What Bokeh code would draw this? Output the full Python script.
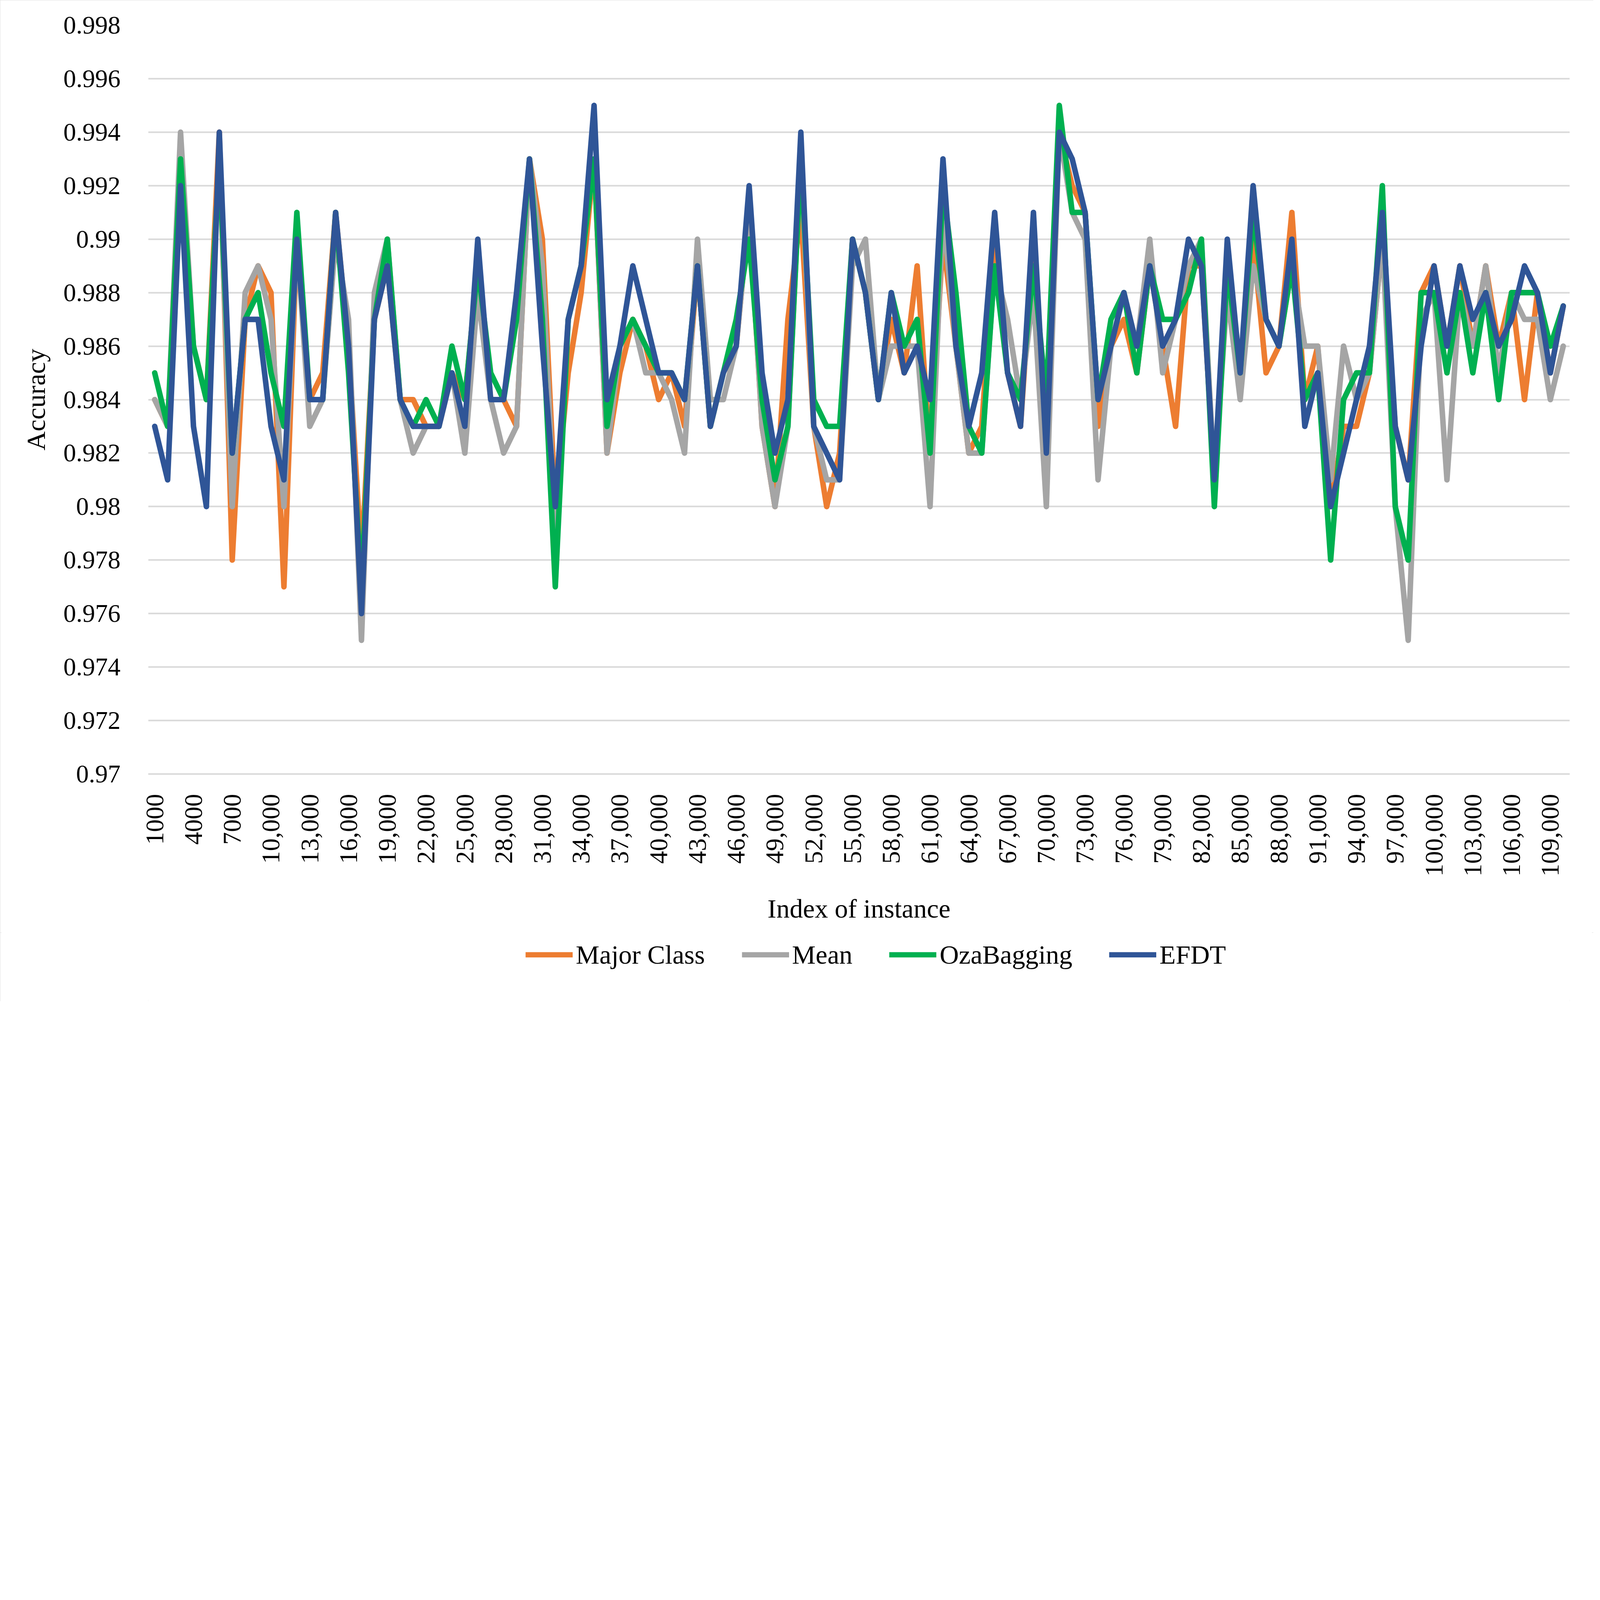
import math
from bokeh.plotting import figure
from bokeh.layouts import column
from bokeh.models import Range1d, FixedTicker, Legend, LegendItem
from bokeh.embed import file_html
from bokeh.resources import INLINE

# Categories: index of instance (1000 ... 110,000)
instances = [1000 * i for i in range(1, 111)]
x_labels = [str(n) if n < 10000 else f"{n:,}" for n in instances]
label_every = 3

series_names = ["Major Class", "Mean", "OzaBagging", "EFDT"]
series_colors = ["#ED7D31", "#A5A5A5", "#00B050", "#2F5597"]

major_class = [
    0.984, 0.983, 0.992, 0.986, 0.984, 0.994, 0.978, 0.987, 0.989, 0.988,
    0.977, 0.990, 0.984, 0.985, 0.991, 0.986, 0.978, 0.987, 0.989, 0.984,
    0.984, 0.983, 0.983, 0.985, 0.984, 0.989, 0.984, 0.984, 0.983, 0.993,
    0.990, 0.980, 0.985, 0.988, 0.993, 0.982, 0.985, 0.987, 0.986, 0.984,
    0.985, 0.983, 0.989, 0.983, 0.985, 0.986, 0.991, 0.983, 0.980, 0.987,
    0.991, 0.983, 0.980, 0.982, 0.990, 0.988, 0.984, 0.987, 0.985, 0.989,
    0.982, 0.990, 0.986, 0.982, 0.983, 0.990, 0.985, 0.983, 0.990, 0.982,
    0.994, 0.992, 0.991, 0.983, 0.986, 0.987, 0.985, 0.989, 0.986, 0.983,
    0.989, 0.989, 0.981, 0.989, 0.985, 0.990, 0.985, 0.986, 0.991, 0.984,
    0.986, 0.980, 0.983, 0.983, 0.985, 0.990, 0.983, 0.981, 0.988, 0.989,
    0.986, 0.989, 0.986, 0.989, 0.986, 0.988, 0.984, 0.988, 0.985, 0.9875,
]

mean = [
    0.984, 0.983, 0.994, 0.986, 0.984, 0.993, 0.980, 0.988, 0.989, 0.987,
    0.980, 0.990, 0.983, 0.984, 0.990, 0.987, 0.975, 0.988, 0.990, 0.984,
    0.982, 0.983, 0.983, 0.985, 0.982, 0.988, 0.984, 0.982, 0.983, 0.993,
    0.989, 0.979, 0.987, 0.989, 0.993, 0.982, 0.986, 0.987, 0.985, 0.985,
    0.984, 0.982, 0.990, 0.984, 0.984, 0.986, 0.991, 0.983, 0.980, 0.983,
    0.993, 0.983, 0.981, 0.981, 0.989, 0.990, 0.984, 0.986, 0.986, 0.986,
    0.980, 0.991, 0.986, 0.982, 0.982, 0.989, 0.987, 0.984, 0.988, 0.980,
    0.994, 0.991, 0.990, 0.981, 0.986, 0.988, 0.986, 0.990, 0.985, 0.987,
    0.989, 0.990, 0.981, 0.988, 0.984, 0.989, 0.987, 0.986, 0.989, 0.986,
    0.986, 0.981, 0.986, 0.984, 0.985, 0.990, 0.980, 0.975, 0.987, 0.988,
    0.981, 0.988, 0.986, 0.989, 0.985, 0.988, 0.987, 0.987, 0.984, 0.986,
]

oza_bagging = [
    0.985, 0.983, 0.993, 0.986, 0.984, 0.993, 0.982, 0.987, 0.988, 0.985,
    0.983, 0.991, 0.984, 0.984, 0.991, 0.985, 0.977, 0.987, 0.990, 0.984,
    0.983, 0.984, 0.983, 0.986, 0.984, 0.989, 0.985, 0.984, 0.987, 0.993,
    0.987, 0.977, 0.987, 0.989, 0.993, 0.983, 0.986, 0.987, 0.986, 0.985,
    0.985, 0.984, 0.989, 0.983, 0.985, 0.987, 0.990, 0.984, 0.981, 0.983,
    0.993, 0.984, 0.983, 0.983, 0.990, 0.988, 0.984, 0.988, 0.986, 0.987,
    0.982, 0.992, 0.988, 0.983, 0.982, 0.989, 0.985, 0.984, 0.989, 0.984,
    0.995, 0.991, 0.991, 0.984, 0.987, 0.988, 0.985, 0.989, 0.987, 0.987,
    0.988, 0.990, 0.980, 0.989, 0.985, 0.991, 0.987, 0.986, 0.989, 0.984,
    0.985, 0.978, 0.984, 0.985, 0.985, 0.992, 0.980, 0.978, 0.988, 0.988,
    0.985, 0.988, 0.985, 0.988, 0.984, 0.988, 0.988, 0.988, 0.986, 0.9875,
]

efdt = [
    0.983, 0.981, 0.992, 0.983, 0.980, 0.994, 0.982, 0.987, 0.987, 0.983,
    0.981, 0.990, 0.984, 0.984, 0.991, 0.986, 0.976, 0.987, 0.989, 0.984,
    0.983, 0.983, 0.983, 0.985, 0.983, 0.990, 0.984, 0.984, 0.988, 0.993,
    0.986, 0.980, 0.987, 0.989, 0.995, 0.984, 0.986, 0.989, 0.987, 0.985,
    0.985, 0.984, 0.989, 0.983, 0.985, 0.986, 0.992, 0.985, 0.982, 0.984,
    0.994, 0.983, 0.982, 0.981, 0.990, 0.988, 0.984, 0.988, 0.985, 0.986,
    0.984, 0.993, 0.986, 0.983, 0.985, 0.991, 0.985, 0.983, 0.991, 0.982,
    0.994, 0.993, 0.991, 0.984, 0.986, 0.988, 0.986, 0.989, 0.986, 0.987,
    0.990, 0.989, 0.981, 0.990, 0.985, 0.992, 0.987, 0.986, 0.990, 0.983,
    0.985, 0.980, 0.982, 0.984, 0.986, 0.991, 0.983, 0.981, 0.986, 0.989,
    0.986, 0.989, 0.987, 0.988, 0.986, 0.987, 0.989, 0.988, 0.985, 0.9875,
]

y_ticks = [0.970, 0.972, 0.974, 0.976, 0.978, 0.980, 0.982, 0.984,
           0.986, 0.988, 0.990, 0.992, 0.994, 0.996, 0.998]
y_tick_labels = ["0.97", "0.972", "0.974", "0.976", "0.978", "0.98", "0.982",
                 "0.984", "0.986", "0.988", "0.99", "0.992", "0.994", "0.996",
                 "0.998"]

FONT = "Liberation Serif"
GRID = "#D9D9D9"
S = 0.589  # overall scale so that the whole chart lies in the captured area


def px(v):
    return int(round(v * S))


def fs(v):
    return f"{round(v * S)}px"


xs = list(range(len(instances)))
all_series = [major_class, mean, oza_bagging, efdt]

W = px(6926)
H_MAIN = px(4052)
H_LEG = px(4351) - H_MAIN

p = figure(width=W, height=H_MAIN, output_backend="svg",
           toolbar_location=None,
           x_range=Range1d(-0.5, len(instances) - 0.5),
           y_range=Range1d(y_ticks[0], y_ticks[-1]),
           min_border_left=px(644), min_border_right=px(103),
           min_border_top=px(108), min_border_bottom=H_MAIN - px(3363))
p.outline_line_color = None
p.background_fill_color = "white"
p.border_fill_color = "white"

# grid
p.xgrid.grid_line_color = None
p.ygrid.ticker = FixedTicker(ticks=y_ticks)
p.ygrid.grid_line_color = GRID
p.ygrid.grid_line_width = 7 * S

# x axis
tick_idx = xs[::label_every]
p.xaxis.ticker = FixedTicker(ticks=tick_idx)
p.xaxis.major_label_overrides = {i: x_labels[i] for i in tick_idx}
p.xaxis.major_label_orientation = math.pi / 2
p.xaxis.major_tick_line_color = None
p.xaxis.minor_tick_line_color = None
p.xaxis.axis_line_color = GRID
p.xaxis.axis_line_width = 7 * S
p.xaxis.major_label_standoff = px(76)
p.xaxis.major_label_text_font = FONT
p.xaxis.major_label_text_font_size = fs(110)
p.xaxis.major_label_text_color = "black"
p.xaxis.axis_label = "Index of instance"
p.xaxis.axis_label_text_font = FONT
p.xaxis.axis_label_text_font_size = fs(116)
p.xaxis.axis_label_text_font_style = "normal"
p.xaxis.axis_label_text_color = "black"
p.xaxis.axis_label_standoff = px(70)

# y axis
p.yaxis.ticker = FixedTicker(ticks=y_ticks)
p.yaxis.major_label_overrides = {t: l for t, l in zip(y_ticks, y_tick_labels)}
p.yaxis.axis_line_color = None
p.yaxis.major_tick_line_color = None
p.yaxis.minor_tick_line_color = None
p.yaxis.major_label_standoff = px(110)
p.yaxis.major_label_text_font = FONT
p.yaxis.major_label_text_font_size = fs(110)
p.yaxis.major_label_text_color = "black"
p.yaxis.axis_label = "Accuracy"
p.yaxis.axis_label_text_font = FONT
p.yaxis.axis_label_text_font_size = fs(116)
p.yaxis.axis_label_text_font_style = "normal"
p.yaxis.axis_label_text_color = "black"
p.yaxis.axis_label_standoff = px(50)

for color, values in zip(series_colors, all_series):
    p.line(xs, values, line_color=color, line_width=24 * S,
           line_join="round", line_cap="round")

# legend strip below the chart (its own small figure, so it is not clipped)
q = figure(width=W, height=H_LEG, output_backend="svg", toolbar_location=None,
           x_range=Range1d(0, 1), y_range=Range1d(2, 3),
           min_border_left=0, min_border_right=0,
           min_border_top=0, min_border_bottom=0)
q.xaxis.visible = False
q.yaxis.visible = False
q.xgrid.visible = False
q.ygrid.visible = False
q.outline_line_color = None
q.background_fill_color = "white"
q.border_fill_color = "white"

items = []
for name, color, values in zip(series_names, series_colors, all_series):
    r = q.line(xs, values, line_color=color, line_width=24 * S,
               line_join="round", line_cap="butt")
    items.append(LegendItem(label=name, renderers=[r]))

LEG_H = px(136)
# the column aligns this strip's frame with the chart frame (left edge 652)
legend = Legend(items=items, orientation="horizontal",
                location=(px(1640), H_LEG - px(97) - LEG_H // 2),
                label_text_font=FONT, label_text_font_size=fs(115),
                label_text_color="black", label_height=LEG_H,
                glyph_width=px(206), glyph_height=px(24),
                label_standoff=px(14), spacing=px(160), padding=0,
                margin=0, border_line_color=None, background_fill_alpha=0)
q.add_layout(legend)

layout = column(p, q, spacing=0)
layout.styles = {"outline": f"{px(7)}px solid #D9D9D9",
                 "outline-offset": f"-{px(7)}px"}

open("out.html", "w").write(file_html(layout, INLINE))
